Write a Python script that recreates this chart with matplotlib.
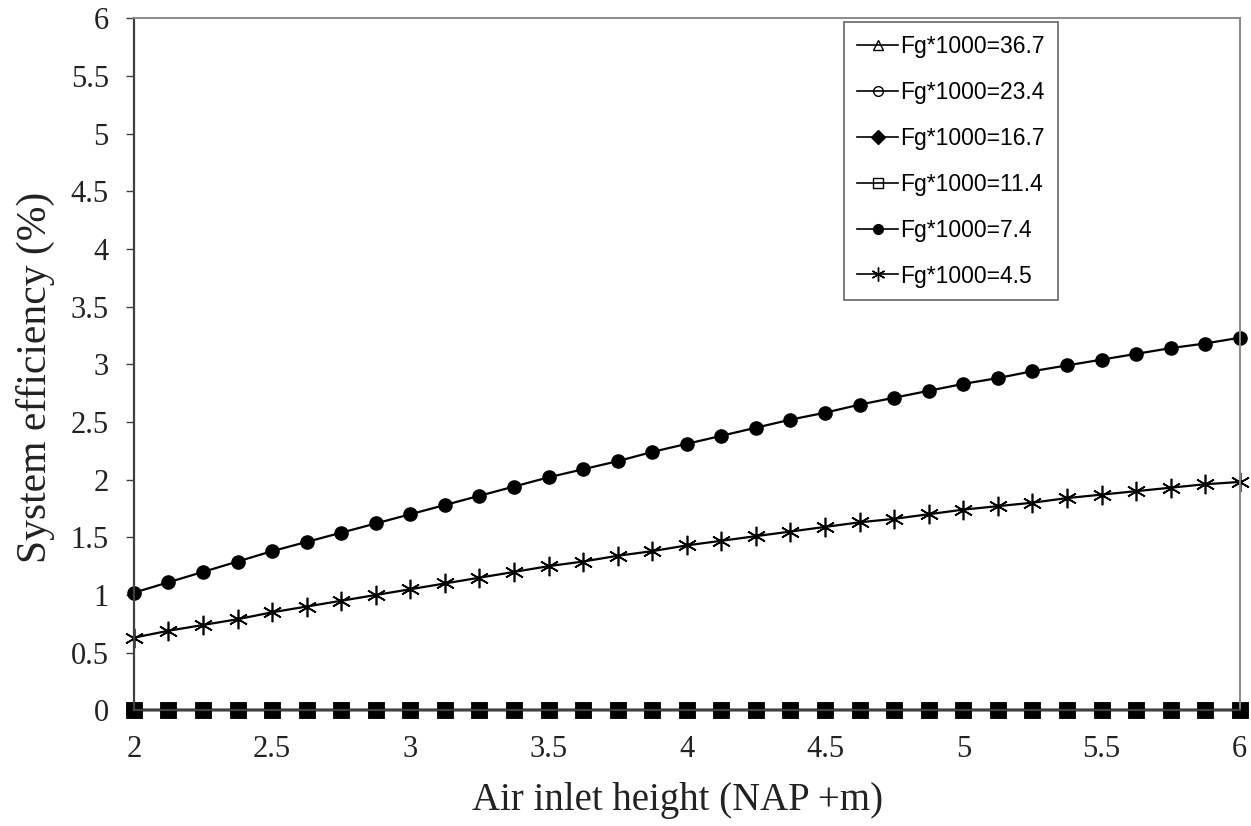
import matplotlib.pyplot as plt
from matplotlib.lines import Line2D
from matplotlib.ticker import FuncFormatter, MultipleLocator
import numpy as np

# air inlet height (NAP +m), 33 points
altura = [2.0, 2.125, 2.25, 2.375, 2.5, 2.625, 2.75, 2.875, 3.0, 3.125, 3.25,
          3.375, 3.5, 3.625, 3.75, 3.875, 4.0, 4.125, 4.25, 4.375, 4.5, 4.625,
          4.75, 4.875, 5.0, 5.125, 5.25, 5.375, 5.5, 5.625, 5.75, 5.875, 6.0]

ef_367 = [0.0] * 33
ef_234 = [0.0] * 33
ef_167 = [0.0] * 33
ef_114 = [0.0] * 33
ef_74 = [1.02, 1.11, 1.20, 1.29, 1.38, 1.46, 1.54, 1.62, 1.70, 1.78, 1.86,
         1.94, 2.02, 2.09, 2.16, 2.24, 2.31, 2.38, 2.45, 2.52, 2.58, 2.65,
         2.71, 2.77, 2.83, 2.88, 2.94, 2.99, 3.04, 3.09, 3.14, 3.18, 3.23]
ef_45 = [0.63, 0.69, 0.74, 0.79, 0.85, 0.90, 0.95, 1.00, 1.05, 1.10, 1.15,
         1.20, 1.25, 1.29, 1.34, 1.38, 1.43, 1.47, 1.51, 1.55, 1.59, 1.63,
         1.66, 1.70, 1.74, 1.77, 1.80, 1.84, 1.87, 1.90, 1.93, 1.96, 1.98]

rotulos = ['Fg*1000=36.7', 'Fg*1000=23.4', 'Fg*1000=16.7',
           'Fg*1000=11.4', 'Fg*1000=7.4', 'Fg*1000=4.5']

asterisco = (6, 2, 0)
estilos = [
    dict(marker='^', mfc='none', ms=8),
    dict(marker='o', mfc='none', ms=8),
    dict(marker='D', mfc='black', ms=8),
    dict(marker='s', mfc='none', ms=9, mew=3.5),
    dict(marker='o', mfc='black', ms=9.5),
    dict(marker=asterisco, mfc='none', ms=14, mew=1.2),
]

fig = plt.figure(figsize=(12.51, 8.26), dpi=100)
ax = fig.add_axes([0.107, 0.140, 0.884, 0.838])

series = [ef_367, ef_234, ef_167, ef_114, ef_74, ef_45]
for y, st in zip(series, estilos):
    ax.plot(altura, y, color='black', linewidth=1.6, mec='black', clip_on=False, **st)

ax.set_xlim(2, 6)
ax.set_ylim(0, 6)
ax.xaxis.set_major_locator(MultipleLocator(0.5))
ax.yaxis.set_major_locator(MultipleLocator(0.5))
fmt = FuncFormatter(lambda v, p: f'{v:g}')
ax.xaxis.set_major_formatter(fmt)
ax.yaxis.set_major_formatter(fmt)

serif = 'Liberation Serif'
for lab in ax.get_xticklabels() + ax.get_yticklabels():
    lab.set_fontfamily(serif)
    lab.set_fontsize(22)
    lab.set_color('#222222')
ax.tick_params(axis='y', direction='out', length=6, width=1, color='#404040', pad=12)
ax.tick_params(axis='x', direction='inout', length=8, width=1, color='#404040', pad=14)

ax.spines['left'].set_color('#404040')
ax.spines['left'].set_linewidth(1.6)
ax.spines['bottom'].set_color('#404040')
ax.spines['bottom'].set_linewidth(1.6)
for s in ['top', 'right']:
    ax.spines[s].set_color('#8a8a8a')
    ax.spines[s].set_linewidth(1.4)

ax.set_ylabel('System efficiency (%)', fontfamily=serif, fontsize=30, color='#222222')
ax.set_xlabel('Air inlet height (NAP +m)', fontfamily=serif, fontsize=28, color='#222222')
ax.yaxis.set_label_coords(-0.071, 0.481)
ax.xaxis.set_label_coords(0.492, -0.103)

# legend handles drawn thin like the original
handles = []
for st in estilos:
    h = dict(st)
    h['ms'] = 7 if st['marker'] != asterisco else 10
    h['mew'] = 1
    handles.append(Line2D([], [], color='black', linewidth=1.2, mec='black', **h))
leg = ax.legend(handles, rotulos, loc='upper right', bbox_to_anchor=(0.8354, 0.994),
                borderaxespad=0, frameon=True, fancybox=False, edgecolor='#404040',
                prop={'family': 'Liberation Sans', 'size': 16.5}, handlelength=1.8,
                handletextpad=0.1, labelspacing=1.0, borderpad=0.55)
leg.get_frame().set_linewidth(1.2)

plt.savefig('out.png', dpi=100)
